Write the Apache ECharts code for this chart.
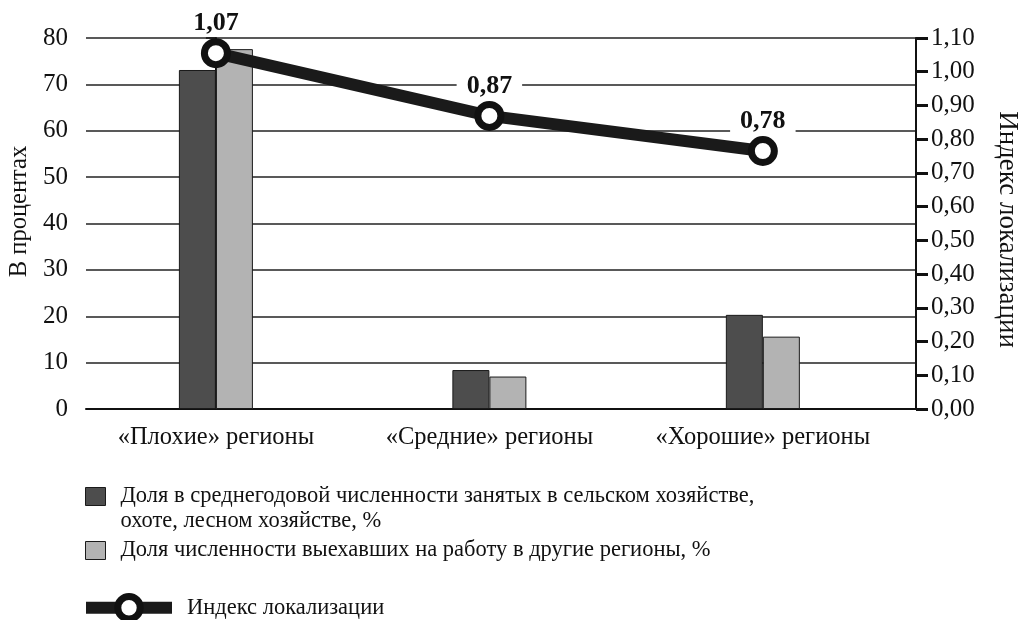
<!DOCTYPE html>
<html>
<head>
<meta charset="utf-8">
<script src="https://cdn.jsdelivr.net/npm/echarts@6/dist/echarts.min.js"></script>
<style>
  html, body { margin: 0; padding: 0; background: #fff; }
  #chart { width: 1022px; height: 620px; }
</style>
</head>
<body>
<div id="chart"></div>
<script>
// категории и значения
var regionNames = ['«Плохие» регионы', '«Средние» регионы', '«Хорошие» регионы'];
var shareAgri = [73.1, 8.4, 20.3];
var shareLeft = [77.6, 7.0, 15.6];
var locIndex = [1.055, 0.869, 0.765];
var locIndexLabels = ['1,07', '0,87', '0,78'];

var nameAgri = 'Доля в среднегодовой численности занятых в сельском хозяйстве,\nохоте, лесном хозяйстве, %';
var nameLeft = 'Доля численности выехавших на работу в другие регионы, %';
var nameIndex = 'Индекс локализации';

var FONT = '"Liberation Serif", "DejaVu Serif", serif';

function toPoints(arr){
    var out = [];
    for (var i = 0; i < arr.length; i++) {
        out.push([i, arr[i]]);
    }
    return out;
}

var myChart = echarts.init(document.getElementById('chart'));

var legendText = { fontFamily: FONT, fontSize: 22.5, color: '#111', lineHeight: 25, padding: [0, 0, 0, 10] };

var option = {
    backgroundColor: '#fff',
    animation: false,
    textStyle: { fontFamily: FONT, color: '#111' },
    grid: {
        left: 86,
        right: 106,
        top: 38,
        bottom: 211,
        outerBoundsMode: 'none',
        containLabel: false
    },
    legend: [
        {
            data: [nameAgri],
            left: 85, top: 459, padding: 0,
            itemWidth: 20, itemHeight: 18,
            icon: 'rect',
            itemStyle: { borderColor: '#1a1a1a', borderWidth: 1 },
            formatter: function (n) { return ' \n' + n; },
            textStyle: legendText
        },
        {
            data: [nameLeft],
            left: 85, top: 538, padding: 0,
            itemWidth: 20, itemHeight: 18,
            icon: 'rect',
            itemStyle: { borderColor: '#1a1a1a', borderWidth: 1 },
            textStyle: legendText
        },
        {
            data: [nameIndex],
            left: 80, top: 593, padding: 0,
            itemWidth: 86, itemHeight: 28,
            lineStyle: { width: 12, color: '#1a1a1a' },
            itemStyle: { color: '#fff', borderColor: '#111', borderWidth: 7 },
            textStyle: legendText
        }
    ],
    xAxis: {
        type: 'value',
        min: -0.475,
        max: 2.56,
        axisLine: { show: true, lineStyle: { color: '#111', width: 2 } },
        axisTick: { show: false },
        splitLine: { show: false },
        axisLabel: {
            customValues: [0, 1, 2],
            margin: 16,
            fontFamily: FONT,
            fontSize: 24.5,
            color: '#111',
            formatter: function (v) { return regionNames[Math.round(v)]; }
        }
    },
    yAxis: [
        {
            type: 'value',
            min: 0, max: 80, interval: 10,
            name: 'В процентах',
            nameLocation: 'middle',
            nameGap: 43,
            nameTextStyle: { fontFamily: FONT, fontSize: 24.5, color: '#111', padding: [0, 0, 0, 24] },
            axisLine: { show: true, lineStyle: { color: '#111', width: 2 } },
            axisTick: { show: true, length: 10, lineStyle: { color: '#111', width: 1.5 } },
            axisLabel: { fontFamily: FONT, fontSize: 25, color: '#111', margin: 18 },
            splitLine: { show: true, lineStyle: { color: '#222', width: 1.5 } }
        },
        {
            type: 'value',
            min: 0, max: 1.1, interval: 0.1,
            name: 'Индекс локализации',
            nameLocation: 'middle',
            nameRotate: -90,
            nameGap: 78,
            nameTextStyle: { fontFamily: FONT, fontSize: 27, color: '#111', padding: [0, 0, 0, 12] },
            axisLine: { show: true, lineStyle: { color: '#111', width: 2 } },
            axisTick: { show: true, length: 12, lineStyle: { color: '#111', width: 3 } },
            axisLabel: {
                fontFamily: FONT, fontSize: 25, color: '#111', margin: 15,
                formatter: function (v) { return v.toFixed(2).replace('.', ','); }
            },
            splitLine: { show: false }
        }
    ],
    series: [
        {
            name: nameAgri,
            type: 'bar',
            barWidth: 37,
            barGap: '0%',
            itemStyle: { color: '#4d4d4d', borderColor: '#1a1a1a', borderWidth: 1 },
            data: toPoints(shareAgri)
        },
        {
            name: nameLeft,
            type: 'bar',
            barWidth: 37,
            barGap: '0%',
            itemStyle: { color: '#b3b3b3', borderColor: '#1a1a1a', borderWidth: 1 },
            data: toPoints(shareLeft)
        },
        {
            name: nameIndex,
            type: 'line',
            yAxisIndex: 1,
            z: 5,
            symbol: 'circle',
            symbolSize: 23,
            lineStyle: { color: '#1a1a1a', width: 12 },
            itemStyle: { color: '#fff', borderColor: '#111', borderWidth: 7 },
            label: {
                show: true,
                position: 'top',
                distance: 2,
                fontFamily: FONT,
                fontSize: 26,
                fontWeight: 'bold',
                color: '#111',
                backgroundColor: '#fff',
                padding: [0, 10],
                formatter: function (p) { return locIndexLabels[p.dataIndex]; }
            },
            data: toPoints(locIndex)
        }
    ]
};

myChart.setOption(option);
window.onresize = function() {
    myChart.resize();
}
</script>
</body>
</html>
